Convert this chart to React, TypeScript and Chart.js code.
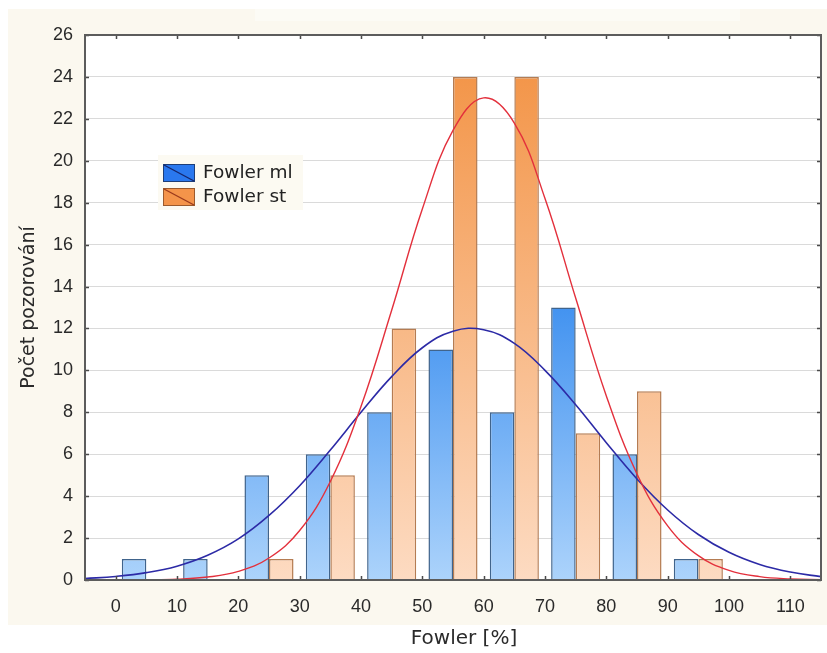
import React, { useEffect, useRef } from 'react';
import { Chart, registerables } from 'chart.js';

Chart.register(...registerables);

// ---- data ----
const binCenters = [5, 15, 25, 35, 45, 55, 65, 75, 85, 95];
const fowlerMl = [1, 1, 5, 6, 8, 11, 8, 13, 6, 1];
const fowlerSt = [null, null, 1, 5, 12, 24, 24, 7, 9, 1];

const curveX = [-5, 0, 5, 10, 15, 20, 25, 30, 35, 40, 45, 50, 55, 60, 65, 70, 75, 80, 85, 90, 95, 100, 105, 110, 115];
const fitMl = [0.07, 0.17, 0.35, 0.66, 1.18, 1.96, 3.08, 4.5, 6.2, 8.0, 9.7, 11.08, 11.87, 11.94, 11.29, 10.0, 8.36, 6.55, 4.82, 3.34, 2.17, 1.32, 0.74, 0.38, 0.16];
const fitSt = [0, 0, 0.01, 0.04, 0.14, 0.41, 1.05, 2.36, 4.7, 8.28, 12.87, 17.7, 21.45, 23.0, 21.8, 18.2, 13.45, 8.78, 5.06, 2.58, 1.16, 0.46, 0.16, 0.05, 0.01];

const xTicks = [0, 10, 20, 30, 40, 50, 60, 70, 80, 90, 100, 110];
const yTicks = [0, 2, 4, 6, 8, 10, 12, 14, 16, 18, 20, 22, 24, 26];

const seriesNames = ['Fowler ml', 'Fowler st'];
const xTitle = 'Fowler [%]';
const yTitle = 'Počet pozorování';

function barGradient(maxVal: number, topColor: string, bottomColor: string) {
  return (c: any) => {
    const chart = c.chart;
    const area = chart.chartArea;
    if (!area) return bottomColor;
    const ys = chart.scales.y;
    const top = ys.getPixelForValue(maxVal);
    const bottom = ys.getPixelForValue(0);
    const g = chart.ctx.createLinearGradient(0, top, 0, bottom);
    g.addColorStop(0, topColor);
    g.addColorStop(1, bottomColor);
    return g;
  };
}

const bgPlugin = {
  id: 'bgPlugin',
  beforeDraw(chart: any) {
    const { ctx, width, height, chartArea: a } = chart;
    ctx.save();
    ctx.fillStyle = '#ffffff';
    ctx.fillRect(0, 0, width, height);
    ctx.fillStyle = '#fbf8ef';
    ctx.fillRect(8, 9, width - 8, 616);
    ctx.fillStyle = '#fcfbf5';
    ctx.fillRect(255, 9, 485, 12);
    ctx.fillStyle = '#ffffff';
    ctx.fillRect(a.left, a.top, a.right - a.left, a.bottom - a.top);
    ctx.restore();
  },
};

const framePlugin = {
  id: 'framePlugin',
  afterDatasetsDraw(chart: any) {
    const { ctx, chartArea: a, scales } = chart;
    ctx.save();
    ctx.strokeStyle = '#4a4a4a';
    ctx.lineWidth = 1.5;
    ctx.beginPath();
    yTicks.forEach((v) => {
      const y = Math.round(scales.y.getPixelForValue(v)) + 0.5;
      ctx.moveTo(a.left, y);
      ctx.lineTo(a.left + 4, y);
      ctx.moveTo(a.right, y);
      ctx.lineTo(a.right - 4, y);
    });
    xTicks.forEach((v) => {
      const x = Math.round(scales.x.getPixelForValue(v)) + 0.5;
      ctx.moveTo(x, a.bottom);
      ctx.lineTo(x, a.bottom - 4);
      ctx.moveTo(x, a.top);
      ctx.lineTo(x, a.top + 4);
    });
    ctx.stroke();
    ctx.strokeStyle = '#5c5c5c';
    ctx.lineWidth = 2;
    ctx.strokeRect(a.left, a.top, a.right - a.left, a.bottom - a.top);
    ctx.restore();
  },
};

const legendPlugin = {
  id: 'legendPlugin',
  afterDraw(chart: any) {
    const { ctx, chartArea: a } = chart;
    const lx = a.left + 73;
    const ly = a.top + 120;
    ctx.save();
    ctx.fillStyle = '#fcfaf2';
    ctx.fillRect(lx, ly, 145, 55);
    const items = [
      { fill: '#2a78ee', border: '#1d3e78', diag: '#15246a' },
      { fill: '#f4944a', border: '#9c5a2c', diag: '#9a3a1c' },
    ];
    items.forEach((it, i) => {
      const sx = lx + 5;
      const sy = ly + 9 + i * 24;
      ctx.fillStyle = it.fill;
      ctx.fillRect(sx, sy, 32, 18);
      ctx.strokeStyle = it.border;
      ctx.lineWidth = 1;
      ctx.strokeRect(sx + 0.5, sy + 0.5, 31, 17);
      ctx.strokeStyle = it.diag;
      ctx.lineWidth = 1.3;
      ctx.beginPath();
      ctx.moveTo(sx + 1, sy + 1);
      ctx.lineTo(sx + 31, sy + 17);
      ctx.stroke();
      ctx.fillStyle = '#222222';
      ctx.font = '18.5px "DejaVu Sans"';
      ctx.textBaseline = 'middle';
      ctx.textAlign = 'left';
      ctx.fillText(seriesNames[i], sx + 40, sy + 9.5);
    });
    ctx.restore();
  },
};

const xTitlePlugin = {
  id: 'xTitlePlugin',
  afterDraw(chart: any) {
    const { ctx } = chart;
    ctx.save();
    ctx.fillStyle = '#2a2a2a';
    ctx.font = '20px "DejaVu Sans"';
    ctx.textAlign = 'center';
    ctx.textBaseline = 'middle';
    ctx.fillText(xTitle, 464, 639);
    ctx.restore();
  },
};

export default function App() {
  const canvasRef = useRef<HTMLCanvasElement | null>(null);

  useEffect(() => {
    const canvas = canvasRef.current;
    if (!canvas) return;
    const chart = new Chart(canvas, {
      type: 'bar',
      data: {
        datasets: [
          {
            type: 'bar',
            label: seriesNames[0],
            data: binCenters.map((x, i) => ({ x, y: fowlerMl[i] })) as any,
            backgroundColor: barGradient(13, '#4393f0', '#acd3fb') as any,
            borderColor: '#40648c',
            borderWidth: 1.5,
            categoryPercentage: 0.8,
            barPercentage: 1.0,
            order: 2,
          },
          {
            type: 'bar',
            label: seriesNames[1],
            data: binCenters.map((x, i) => ({ x, y: fowlerSt[i] })) as any,
            backgroundColor: barGradient(24, '#f3964a', '#fddbc2') as any,
            borderColor: '#b57c52',
            borderWidth: 1.5,
            categoryPercentage: 0.8,
            barPercentage: 1.0,
            order: 2,
          },
          {
            type: 'line',
            label: 'fit ml',
            data: curveX.map((x, i) => ({ x, y: fitMl[i] })) as any,
            borderColor: '#2c2aa6',
            borderWidth: 1.6,
            pointRadius: 0,
            fill: false,
            tension: 0.4,
            order: 1,
          },
          {
            type: 'line',
            label: 'fit st',
            data: curveX.map((x, i) => ({ x, y: fitSt[i] })) as any,
            borderColor: '#e3303c',
            borderWidth: 1.4,
            pointRadius: 0,
            fill: false,
            tension: 0.4,
            order: 0,
          },
        ] as any,
      },
      options: {
        responsive: false,
        animation: false,
        devicePixelRatio: 1,
        layout: { padding: { top: 35, right: 6, left: 0, bottom: 0 } },
        plugins: {
          legend: { display: false },
          tooltip: { enabled: false },
        },
        scales: {
          x: {
            type: 'linear',
            min: -5,
            max: 115,
            offset: false,
            grid: { display: false, drawTicks: false },
            border: { display: false },
            afterBuildTicks: (s: any) => {
              s.ticks = xTicks.map((v) => ({ value: v }));
            },
            afterFit: (s: any) => {
              s.height = 73;
            },
            ticks: {
              color: '#2a2a2a',
              font: { family: '"Liberation Sans", Arial, sans-serif', size: 18 },
              padding: 16,
              maxRotation: 0,
              autoSkip: false,
            },
          },
          y: {
            type: 'linear',
            min: 0,
            max: 26,
            grid: { color: '#dadada', lineWidth: 1, drawTicks: false },
            border: { display: false },
            afterFit: (s: any) => {
              s.width = 85;
            },
            ticks: {
              stepSize: 2,
              color: '#2a2a2a',
              font: { family: '"Liberation Sans", Arial, sans-serif', size: 18 },
              padding: 12,
            },
            title: {
              display: true,
              text: yTitle,
              color: '#2a2a2a',
              font: { family: '"DejaVu Sans", sans-serif', size: 19 },
              padding: { top: 18, bottom: 0 },
            },
          },
        },
      } as any,
      plugins: [bgPlugin, framePlugin, legendPlugin, xTitlePlugin],
    });
    return () => chart.destroy();
  }, []);

  return (
    <div style={{ position: 'fixed', left: 0, top: 0, width: 827, height: 653 }}>
      <canvas ref={canvasRef} width={827} height={653} style={{ display: 'block', width: 827, height: 653 }} />
    </div>
  );
}
